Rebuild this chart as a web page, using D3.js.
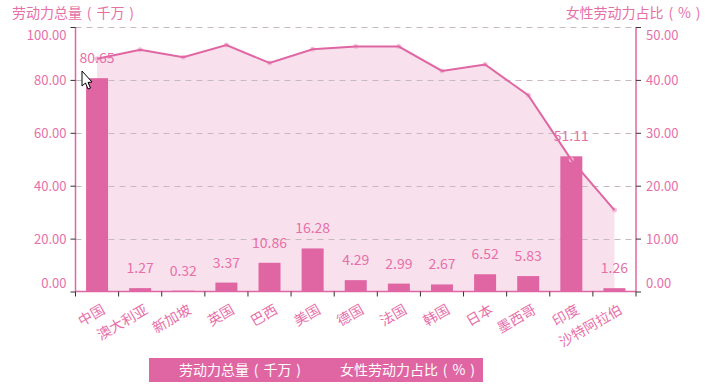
<!DOCTYPE html>
<html><head><meta charset="utf-8">
<script src="https://cdn.jsdelivr.net/npm/d3@7"></script>
<style>html,body{margin:0;padding:0;background:#fff}text{font-family:"Noto Sans CJK SC","Noto Sans",sans-serif}.sp{word-spacing:1.7px}</style>
</head><body><svg id="c" width="705" height="384"></svg>
<script>
const categories=["中国","澳大利亚","新加坡","英国","巴西","美国","德国","法国","韩国","日本","墨西哥","印度","沙特阿拉伯"];
const laborForce=[80.65,1.27,0.32,3.37,10.86,16.28,4.29,2.99,2.67,6.52,5.83,51.11,1.26];
const femaleShare=[44.0,45.7,44.3,46.6,43.2,45.8,46.3,46.3,41.7,42.9,37.1,24.9,15.4];
const leftTicks=[0,20,40,60,80,100];
const rightTicks=[0,10,20,30,40,50];
const seriesNames=["劳动力总量 ( 千万 )","女性劳动力占比 ( % )"];
const pink="#e066a3",txt="#e76fa8",tick="#333";
const L=75.5,R=636,T=27,B=291.5;
const svg=d3.select("#c");
const x=d3.scaleBand().domain(categories).range([L,R]);
const yL=d3.scaleLinear().domain([0,100]).range([B,T]);
const yR=d3.scaleLinear().domain([0,50]).range([B,T]);
const cx=c=>x(c)+x.bandwidth()/2;
// area
svg.append("path").datum(femaleShare)
 .attr("d",d3.area().x((d,i)=>cx(categories[i])).y0(B).y1(d=>yR(d)))
 .attr("fill","#f8e1ec");
// grid
svg.append("g").selectAll("line").data(leftTicks.filter(d=>d>0)).join("line")
 .attr("x1",L).attr("x2",R).attr("y1",d=>Math.round(yL(d))+.5).attr("y2",d=>Math.round(yL(d))+.5)
 .attr("stroke","#c6bac0").attr("stroke-dasharray","6 5");
// bars
const bw=22;
svg.append("g").selectAll("rect").data(laborForce).join("rect")
 .attr("x",(d,i)=>cx(categories[i])-bw/2).attr("width",bw)
 .attr("y",d=>yL(d)).attr("height",d=>B-yL(d)).attr("fill",pink);
// line
svg.append("g").selectAll("circle").data(femaleShare).join("circle")
 .attr("cx",(d,i)=>cx(categories[i])).attr("cy",d=>yR(d)).attr("r",2.5)
 .attr("fill","#f4bcd6");
svg.append("path").datum(femaleShare)
 .attr("d",d3.line().x((d,i)=>cx(categories[i])).y(d=>yR(d)))
 .attr("fill","none").attr("stroke",pink).attr("stroke-width",2);
// bar labels
svg.append("g").selectAll("text").data(laborForce).join("text")
 .attr("x",(d,i)=>cx(categories[i])).attr("y",d=>yL(d)-15)
 .attr("text-anchor","middle").attr("font-size",14).attr("fill",txt)
 .text(d=>d.toFixed(2));
// axes
const axL=svg.append("g").attr("transform",`translate(${L},0)`).call(d3.axisLeft(yL).tickValues(leftTicks).tickSize(5).tickFormat(d3.format(".2f")));
const axR=svg.append("g").attr("transform",`translate(${R},0)`).call(d3.axisRight(yR).tickValues(rightTicks).tickSize(5).tickFormat(d3.format(".2f")));
const shift=(d,dom)=>d===dom[0]?-8.5:d===dom[dom.length-1]?8:0;
axL.selectAll(".tick text").attr("dy",d=>(shift(d,leftTicks)+4.5)+"px").attr("x",-9);
axR.selectAll(".tick text").attr("dy",d=>(shift(d,rightTicks)+4.5)+"px").attr("x",10);
[axL,axR].forEach(a=>{
 a.selectAll(".domain").attr("stroke",pink).attr("stroke-width",1.5).attr("d",`M0,${T}V${B}`);
 a.selectAll(".tick line").attr("stroke",tick);
 a.selectAll(".tick text").attr("fill",txt).attr("font-size",13).style("font-family",'"Noto Sans CJK SC"');
});
// x axis
const ax=svg.append("g").attr("transform",`translate(0,${B})`);
ax.append("path").attr("d",`M${L},0H${R}`).attr("stroke",pink).attr("stroke-width",1.5).attr("fill","none");
const edges=d3.range(categories.length+1).map(i=>L+i*x.bandwidth());
ax.selectAll("line").data(edges).join("line").attr("x1",d=>d).attr("x2",d=>d).attr("y1",0).attr("y2",5).attr("stroke",tick);
ax.selectAll("text").data(categories).join("text")
 .attr("transform",d=>`translate(${cx(d)+9},${21}) rotate(-30)`)
 .attr("text-anchor","end").attr("font-size",14).attr("fill",txt).text(d=>d);
// titles
svg.append("text").attr("class","sp").attr("x",12).attr("y",18).attr("font-size",14).attr("fill",txt).text(seriesNames[0]);
svg.append("text").attr("class","sp").attr("x",700.5).attr("y",18).attr("text-anchor","end").attr("font-size",14).attr("fill",txt).text(seriesNames[1]);
// legend
svg.append("rect").attr("x",149).attr("y",358).attr("width",334).attr("height",24).attr("fill",pink);
svg.append("g").selectAll("text").data(seriesNames).join("text")
 .attr("class","sp").attr("x",(d,i)=>[179,340][i]).attr("y",375).attr("font-size",14).attr("fill","#fff").text(d=>d);
// pointer visible in the reference screenshot
svg.append("path").attr("d","M82,71V86L85.5,83L88,89L90.5,88L88,82.5L92,82Z").attr("fill","#fff").attr("stroke","#000").attr("stroke-width",1);
</script></body></html>
